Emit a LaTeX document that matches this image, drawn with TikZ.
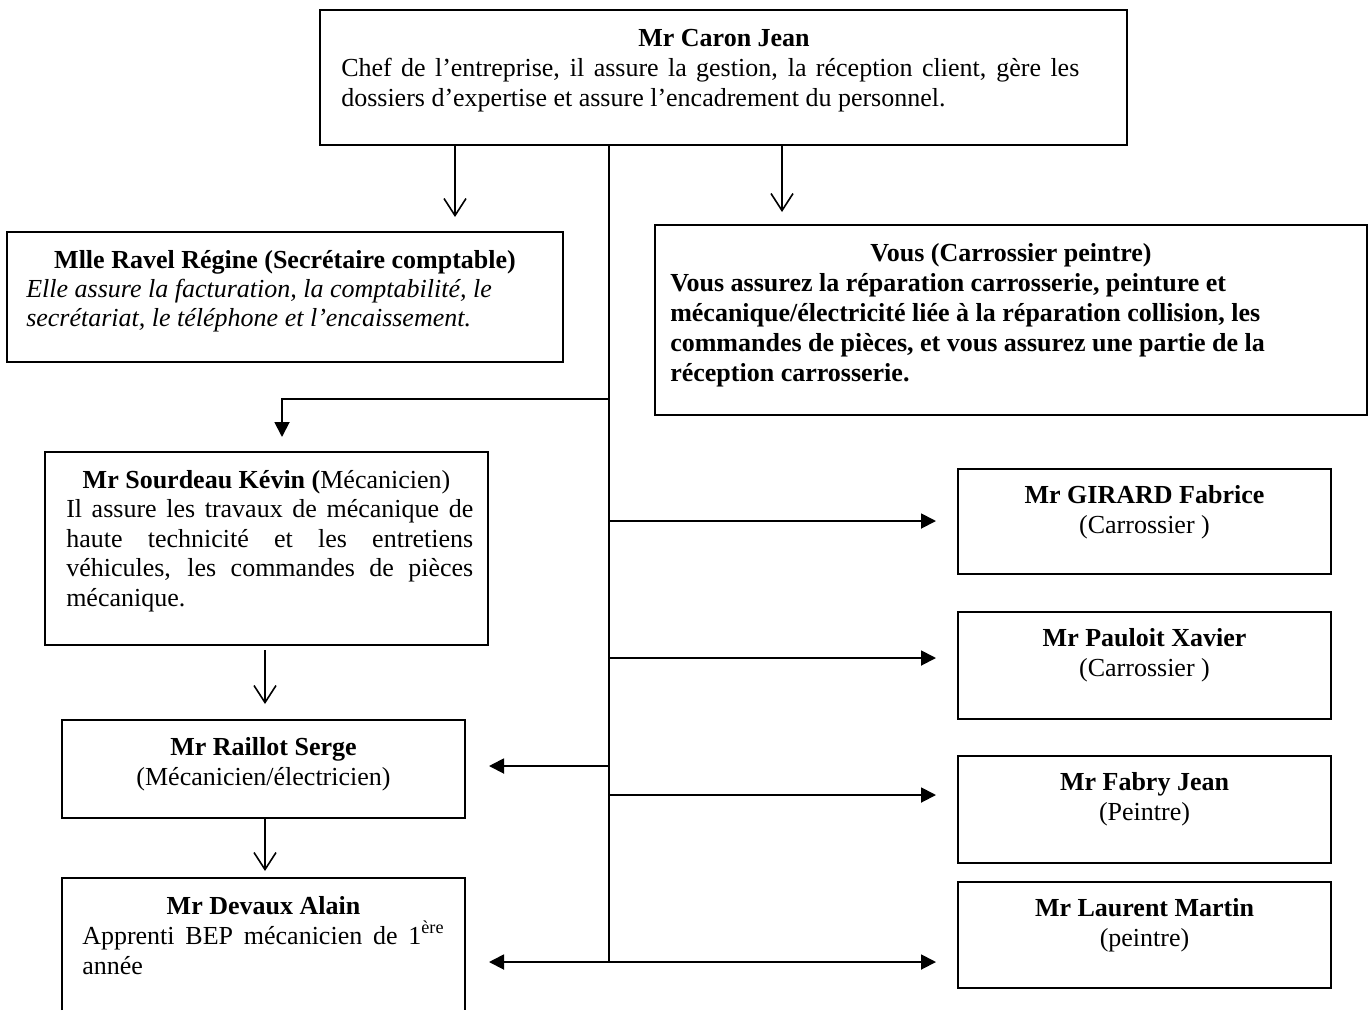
\documentclass[tikz,border=0pt]{standalone}
\usepackage{fontspec}
\setmainfont{Liberation Serif}
\usetikzlibrary{arrows.meta}
\newcommand\mkbox[5]{\node[box, minimum width={(#4-#2)*0.75pt}, minimum height={(#5-#3)*0.75pt}] (#1) at (#2,#3) {};}
\begin{document}
\begin{tikzpicture}[x=0.75pt,y=-0.75pt,
  box/.style={draw, line width=1.7pt, inner sep=0pt, outer sep=0pt, anchor=north west},
  ln/.style={line width=1.4pt},
  openarr/.style={line width=1.2pt, -{Straight Barb[length=12.75pt,width=16.5pt]}},
  fillarr/.style={ln, -{Triangle[length=11.25pt,width=11.25pt]}},
  tx/.style={inner sep=0pt, font=\fontsize{19.5}{22.5}\selectfont},
  tl/.style={tx, anchor=base west},
  tc/.style={tx, anchor=base},
]
\useasboundingbox (0,0) rectangle (1369,1010);
\fill[white] (0,0) rectangle (1369,1010);

% boxes
\mkbox{caron}{320}{10}{1127}{145}
\mkbox{ravel}{7}{232}{563}{362}
\mkbox{vous}{655}{225}{1367}{415}
\mkbox{sourdeau}{45}{452}{488}{645}
\mkbox{raillot}{62}{720}{465}{818}
\node[inner sep=0pt, outer sep=0pt, anchor=north west, minimum width={403*0.75pt}, minimum height={132*0.75pt}] (devaux) at (62,878) {};
\draw[line width=1.7pt] (devaux.south west) -- (devaux.north west) -- (devaux.north east) -- (devaux.south east);
\mkbox{girard}{958}{469}{1331}{574}
\mkbox{pauloit}{958}{612}{1331}{719}
\mkbox{fabry}{958}{756}{1331}{863}
\mkbox{laurent}{958}{882}{1331}{988}

% texts
\node[tc] (caronT) at (724,46) {\bfseries Mr Caron Jean};
\node[tl] (caron1) at (341,76) {\makebox[553.5pt][s]{Chef de l’entreprise, il assure la gestion, la réception client, gère les}};
\node[tl] (caron2) at (341,106) {dossiers d’expertise et assure l’encadrement du personnel.};

\node[tc] (ravelT) at (285,268) {\bfseries Mlle Ravel Régine (Secrétaire comptable)};
\node[tl] (ravel1) at (26,297) {\itshape Elle assure la facturation, la comptabilité, le};
\node[tl] (ravel2) at (26,326) {\itshape secrétariat, le téléphone et l’encaissement.};

\node[tc] (vousT) at (1011,261) {\bfseries Vous (Carrossier peintre)};
\node[tl] (vous1) at (670,291) {\bfseries Vous assurez la réparation carrosserie, peinture et};
\node[tl] (vous2) at (670,321) {\bfseries mécanique/électricité liée à la réparation collision, les};
\node[tl] (vous3) at (670,351) {\bfseries commandes de pièces, et vous assurez une partie de la};
\node[tl] (vous4) at (670,381) {\bfseries réception carrosserie.};

\node[tc] (sourdT) at (266.5,488) {\textbf{Mr Sourdeau Kévin (}Mécanicien)};
\node[tl] (sourd1) at (66,517.5) {\makebox[305.25pt][s]{Il assure les travaux de mécanique de}};
\node[tl] (sourd2) at (66,547) {\makebox[305.25pt][s]{haute technicité et les entretiens}};
\node[tl] (sourd3) at (66,576.5) {\makebox[305.25pt][s]{véhicules, les commandes de pièces}};
\node[tl] (sourd4) at (66,606) {mécanique.};

\node[tc] (raillT) at (263.5,755) {\bfseries Mr Raillot Serge};
\node[tc] (raill1) at (263.5,785) {(Mécanicien/électricien)};

\node[tc] (devT) at (263.5,914) {\bfseries Mr Devaux Alain};
\node[tl] (dev1) at (82,944) {\makebox[271.5pt][s]{Apprenti BEP mécanicien de 1\textsuperscript{ère}}};
\node[tl] (dev2) at (82,974) {année};

\node[tc] (girT) at (1144.5,503) {\bfseries Mr GIRARD Fabrice};
\node[tc] (gir1) at (1144.5,533) {(Carrossier )};
\node[tc] (pauT) at (1144.5,646) {\bfseries Mr Pauloit Xavier};
\node[tc] (pau1) at (1144.5,676) {(Carrossier )};
\node[tc] (fabT) at (1144.5,790) {\bfseries Mr Fabry Jean};
\node[tc] (fab1) at (1144.5,820) {(Peintre)};
\node[tc] (lauT) at (1144.5,916) {\bfseries Mr Laurent Martin};
\node[tc] (lau1) at (1144.5,946) {(peintre)};

% connectors
\coordinate (tipRavel) at (455,217);
\coordinate (tipVous) at (782,212);
\coordinate (trunkEnd) at (609,962);
\draw[openarr] (caron.south -| tipRavel) -- (tipRavel);
\draw[openarr] (caron.south -| tipVous) -- (tipVous);
\draw[ln] (caron.south -| trunkEnd) -- (trunkEnd);

\coordinate (jS) at (609,399);
\coordinate (tipS) at (282,437);
\draw[fillarr] (jS) -| (tipS);

\coordinate (tipR) at (265,704);
\draw[openarr, shorten <=4pt] (sourdeau.south -| tipR) -- (tipR);
\coordinate (tipD) at (265,871);
\draw[openarr] (raillot.south -| tipD) -- (tipD);

\coordinate (jR) at (609,766);
\coordinate (tipRl) at (489,766);
\draw[fillarr] (jR) -- (tipRl);
\coordinate (tipDv) at (489,962);
\draw[fillarr] (trunkEnd) -- (tipDv);

\coordinate (jG) at (609,521);
\coordinate (tipG) at (936,521);
\draw[fillarr] (jG) -- (tipG);
\coordinate (jP) at (609,658);
\coordinate (tipP) at (936,658);
\draw[fillarr] (jP) -- (tipP);
\coordinate (jF) at (609,795);
\coordinate (tipF) at (936,795);
\draw[fillarr] (jF) -- (tipF);
\coordinate (tipL) at (936,962);
\draw[fillarr] (trunkEnd) -- (tipL);
\end{tikzpicture}
\end{document}
